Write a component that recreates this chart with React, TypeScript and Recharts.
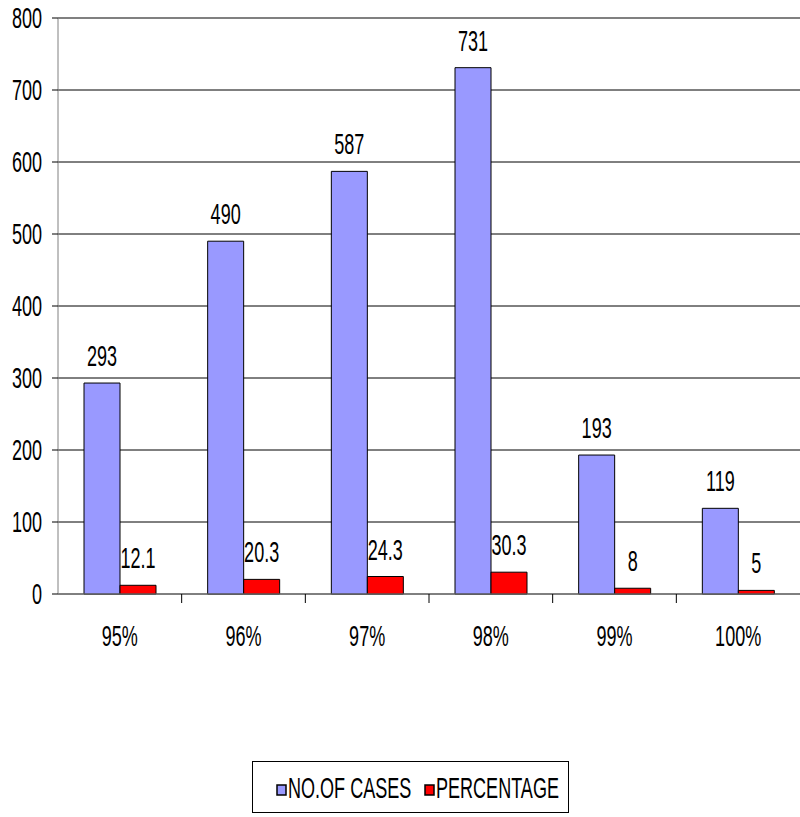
import React from 'react';
import { BarChart, Bar, XAxis, YAxis, CartesianGrid, LabelList, ReferenceLine } from 'recharts';

const categories = ['95%', '96%', '97%', '98%', '99%', '100%'];
const cases = [293, 490, 587, 731, 193, 119];
const percentage = [12.1, 20.3, 24.3, 30.3, 8, 5];
const yTicks = [0, 100, 200, 300, 400, 500, 600, 700, 800];

const SERIES = [
  { key: 'cases', name: 'NO.OF CASES', color: '#9999FF' },
  { key: 'pct', name: 'PERCENTAGE', color: '#FF0000' },
];

const data = categories.map((c, i) => ({ name: c, cases: cases[i], pct: percentage[i] }));

const FONT = "'Liberation Sans', Arial, sans-serif";
const W = 800;
const H = 817;
const AXIS_W = 58;
const BAND = (W - AXIS_W) / categories.length;

// condensed look: squeeze horizontally, stretch vertically
const Txt: React.FC<{ x: number; y: number; anchor?: 'start' | 'middle' | 'end'; children: React.ReactNode }> = ({ x, y, anchor = 'middle', children }) => (
  <text
    transform={`translate(${x},${y}) scale(0.82,1.38)`}
    textAnchor={anchor}
    fontFamily={FONT}
    fontSize={22}
    fill="#000"
  >
    {children}
  </text>
);

const YTick = (props: any) => {
  const { x, y, payload } = props;
  return <Txt x={x - 8} y={y + 10} anchor="end">{payload.value}</Txt>;
};

const XTick = (props: any) => {
  const { x, y, payload, index } = props;
  return (
    <g>
      {index > 0 && <line x1={x - BAND / 2} x2={x - BAND / 2} y1={y - 8} y2={y + 1} stroke="#000" />}
      <Txt x={x} y={y + 44}>{payload.value}</Txt>
    </g>
  );
};

const ValueLabel = (props: any) => {
  const { x, y, width, value } = props;
  return <Txt x={x + width / 2} y={y - 17}>{value}</Txt>;
};

const Legend: React.FC = () => (
  <svg width={318} height={53} style={{ position: 'absolute', left: 252, top: 761 }}>
    <rect x={0.5} y={0.5} width={316} height={51} fill="#fff" stroke="#000" />
    {SERIES.map((s, i) => {
      const lx = i === 0 ? 25 : 173;
      return (
        <g key={s.key}>
          <rect x={lx} y={24} width={9} height={10} fill={s.color} stroke="#000" strokeWidth={1.5} />
          <Txt x={lx + 11} y={37} anchor="start">{s.name}</Txt>
        </g>
      );
    })}
  </svg>
);

export default function App() {
  return (
    <div style={{ position: 'absolute', left: 0, top: 0, width: W, height: H, background: '#fff' }}>
      <BarChart
        width={W}
        height={H}
        data={data}
        margin={{ top: 18, right: 0, left: 0, bottom: 163 }}
        barGap={0}
        barSize={36}
      >
        <CartesianGrid vertical={false} stroke="#000" />
        <XAxis
          dataKey="name"
          height={60}
          stroke="#808080"
          tickLine={false}
          tick={<XTick />}
          interval={0}
        />
        <YAxis
          width={AXIS_W}
          domain={[0, 800]}
          ticks={yTicks}
          stroke="#808080"
          tickLine={{ stroke: '#000' }}
          tickSize={6}
          tick={<YTick />}
          interval={0}
        />
        <ReferenceLine y={800} stroke="#808080" strokeWidth={2} />
        {SERIES.map((s) => (
          <Bar key={s.key} dataKey={s.key} name={s.name} fill={s.color} stroke="#000" strokeWidth={1} isAnimationActive={false}>
            <LabelList dataKey={s.key} content={<ValueLabel />} />
          </Bar>
        ))}
      </BarChart>
      <Legend />
    </div>
  );
}
